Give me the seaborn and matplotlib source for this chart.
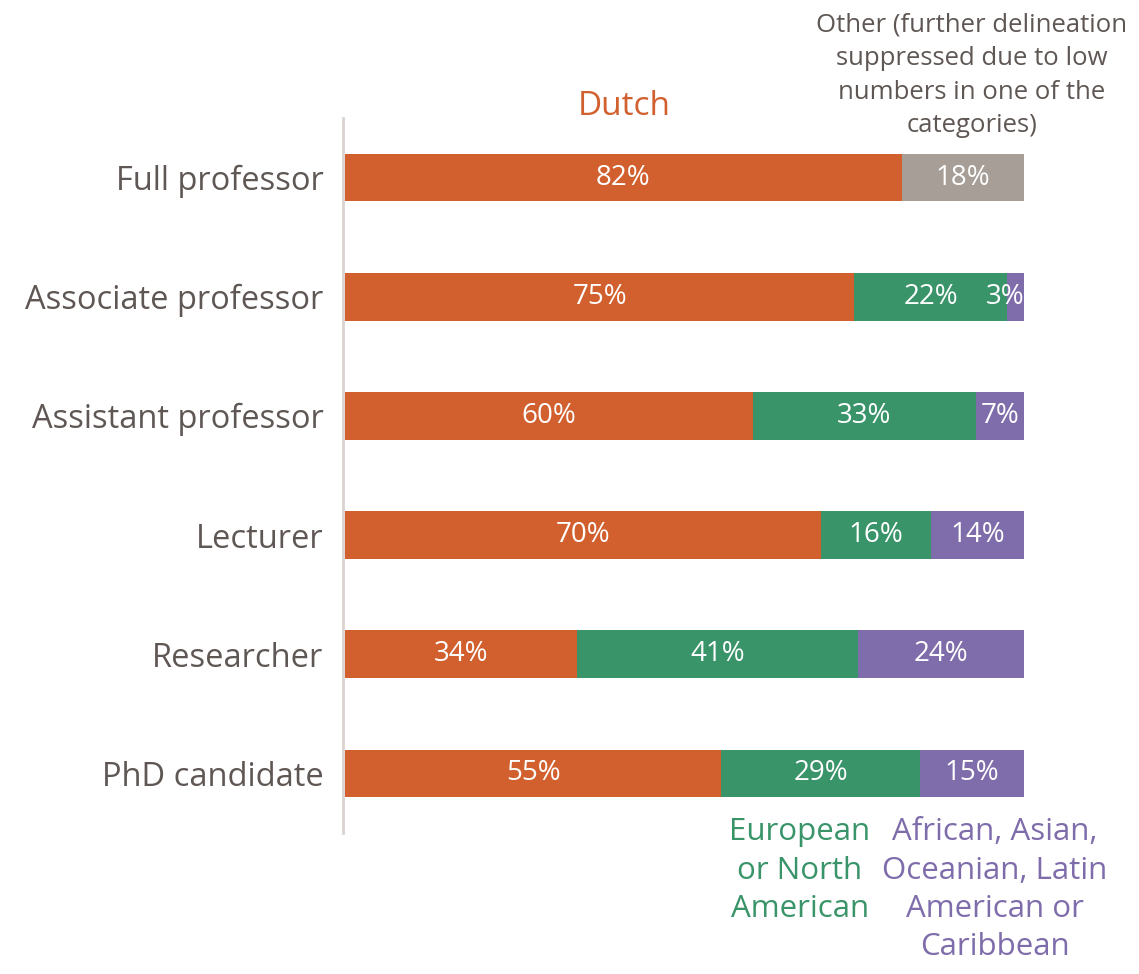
import numpy as np
import pandas as pd
from matplotlib import pyplot as plt
import seaborn as sns

# Data (shares in %)
positions = ['Full professor', 'Associate professor', 'Assistant professor',
             'Lecturer', 'Researcher', 'PhD candidate']
dutch = [82.0, 75.0, 60.1, 70.1, 34.2, 55.4]
european = [0.0, 22.5, 32.8, 16.2, 41.4, 29.3]
non_western = [0.0, 2.5, 7.1, 13.7, 24.4, 15.3]
other = [18.0, 0.0, 0.0, 0.0, 0.0, 0.0]

dutch_lbl = ['82%', '75%', '60%', '70%', '34%', '55%']
european_lbl = ['', '22%', '33%', '16%', '41%', '29%']
non_western_lbl = ['', '3%', '7%', '14%', '24%', '15%']
other_lbl = ['18%', '', '', '', '', '']

c_dutch = '#D2602E'
c_euro = '#3A946A'
c_nonw = '#7F6DAB'
c_other = '#A79E98'
c_text = '#5F5754'

df = pd.DataFrame({'position': positions, 'dutch': dutch, 'european': european,
                   'non_western': non_western, 'other': other})
df['cum1'] = df['dutch']
df['cum2'] = df['cum1'] + df['european']
df['cum3'] = df['cum2'] + df['non_western']
df['cum4'] = df['cum3'] + df['other']

sns.set_style("white")
plt.rcParams['font.family'] = ['Open Sans', 'DejaVu Sans']

fig = plt.figure(figsize=(11.39, 9.74), dpi=100)
ax = fig.add_axes([0.3029, 0.1448, 0.5961, 0.7341])

# Stacked bars drawn back to front from cumulative sums
for col, color in [('cum4', c_other), ('cum3', c_nonw), ('cum2', c_euro), ('cum1', c_dutch)]:
    sns.barplot(data=df, x=col, y='position', color=color, width=0.4,
                orient='h', saturation=1, linewidth=0, ax=ax)

# Segment labels
segments = [('dutch', dutch_lbl), ('european', european_lbl),
            ('non_western', non_western_lbl), ('other', other_lbl)]
for i in range(len(positions)):
    start = 0
    for key, labels in segments:
        w = df[key][i]
        if w > 0:
            if w < 5:
                ax.text(start + w, i, labels[i], ha='right', va='center',
                        color='white', fontsize=20)
            else:
                ax.text(start + w / 2, i, labels[i], ha='center', va='center',
                        color='white', fontsize=20)
        start += w

ax.set_xlim(0, 100)
ax.set_ylim(5.5, -0.5)
ax.set_xlabel('')
ax.set_ylabel('')
ax.set_xticks([])
ax.tick_params(axis='y', length=0, pad=14, labelsize=23.5, labelcolor=c_text)

for s in ['top', 'right', 'bottom']:
    ax.spines[s].set_visible(False)
ax.spines['left'].set_color('#DCD3D0')
ax.spines['left'].set_linewidth(2)
ax.spines['left'].set_position(('data', -0.3))

# Category annotations
ax.text(41.2, -0.6, 'Dutch', ha='center', va='center', color=c_dutch,
        fontsize=24, clip_on=False)
ax.text(92.3, -0.33, 'Other (further delineation\nsuppressed due to low\nnumbers in one of the\ncategories)',
        ha='center', va='bottom', color=c_text, fontsize=18.5,
        linespacing=1.45, clip_on=False)
ax.text(67.0, 5.37, 'European\nor North\nAmerican', ha='center', va='top',
        color=c_euro, fontsize=22.5, linespacing=1.36, clip_on=False)
ax.text(95.7, 5.37, 'African, Asian,\nOceanian, Latin\nAmerican or\nCaribbean',
        ha='center', va='top', color=c_nonw, fontsize=22.5, linespacing=1.36,
        clip_on=False)

fig.savefig('out.png', dpi=100)
